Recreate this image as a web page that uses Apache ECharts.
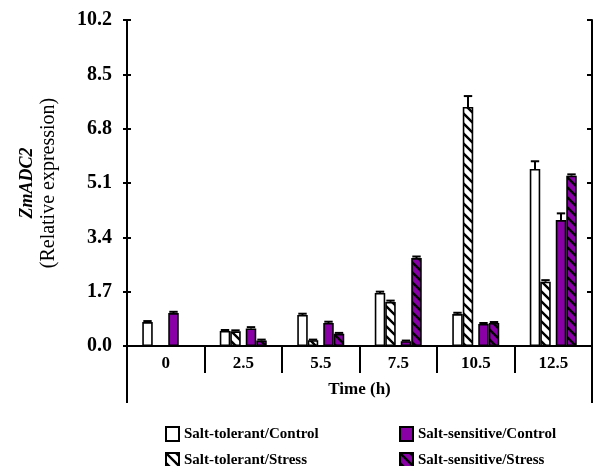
<!DOCTYPE html>
<html>
<head>
<meta charset="utf-8">
<script src="https://cdn.jsdelivr.net/npm/echarts@6/dist/echarts.min.js"></script>
<style>
  html, body { margin: 0; padding: 0; background: #fff; }
  #chart { width: 596px; height: 466px; }
</style>
</head>
<body>
<div id="chart"></div>
<script>
// 数据
const times = ['0', '2.5', '5.5', '7.5', '10.5', '12.5']
const yTicks = [0, 1.7, 3.4, 5.1, 6.8, 8.5, 10.2]

const tolCtrl = [0.75, 0.47, 0.97, 1.66, 1.00, 5.54]
const tolStress = [0, 0.46, 0.18, 1.38, 7.48, 2.01]
const sensCtrl = [1.03, 0.55, 0.72, 0.15, 0.69, 3.94]
const sensStress = [0, 0.17, 0.38, 2.75, 0.72, 5.33]

const tolCtrlErr = [0.03, 0.03, 0.04, 0.04, 0.04, 0.24]
const tolStressErr = [0, 0.03, 0.02, 0.04, 0.34, 0.05]
const sensCtrlErr = [0.04, 0.04, 0.04, 0.02, 0.03, 0.21]
const sensStressErr = [0, 0.03, 0.03, 0.05, 0.03, 0.04]

const PURPLE = '#8800a6'
const FONT = "'Liberation Serif', 'Times New Roman', serif"
const BAR_W = 10.5
const PAIR_GAP = 5
const grid = { left: 127, right: 4, top: 20, bottom: 120 }

// 斜线填充
function hatch(bg) {
  const c = document.createElement('canvas')
  c.width = 10
  c.height = 10
  const ctx = c.getContext('2d')
  ctx.fillStyle = bg
  ctx.fillRect(0, 0, 10, 10)
  ctx.strokeStyle = '#000'
  ctx.lineWidth = 2.4
  ctx.beginPath()
  ctx.moveTo(-2, -2); ctx.lineTo(12, 12)
  ctx.moveTo(-2, 8); ctx.lineTo(2, 12)
  ctx.moveTo(8, -2); ctx.lineTo(12, 2)
  ctx.stroke()
  return { image: c, repeat: 'repeat' }
}

const barDefs = [
  { name: 'Salt-tolerant/Control', data: tolCtrl, err: tolCtrlErr, color: '#fff' },
  { name: 'Salt-tolerant/Stress', data: tolStress, err: tolStressErr, color: hatch('#fff') },
  { name: 'Salt-sensitive/Control', data: sensCtrl, err: sensCtrlErr, color: PURPLE },
  { name: 'Salt-sensitive/Stress', data: sensStress, err: sensStressErr, color: hatch(PURPLE) }
]

// 每根柱子相对类目中心的偏移
const groupW = BAR_W * 4 + PAIR_GAP
const offsets = [0, 1, 2, 3].map(i => -groupW / 2 + BAR_W * i + (i >= 2 ? PAIR_GAP : 0) + BAR_W / 2)

const errData = []
barDefs.forEach((d, k) => {
  d.data.forEach((v, i) => errData.push([i, v, d.err[i], k]))
})

const barSeries = barDefs.map(d => ({
  name: d.name,
  type: 'bar',
  barWidth: BAR_W,
  barGap: '0%',
  data: d.data,
  itemStyle: { color: d.color, borderColor: '#000', borderWidth: 1.6 }
}))
// 中间留空
barSeries.splice(2, 0, {
  name: 'spacer',
  type: 'bar',
  barWidth: PAIR_GAP,
  barGap: '0%',
  silent: true,
  data: times.map(() => '-')
})

const chart = echarts.init(document.getElementById('chart'))

// 图例：每项单独放
const legendPos = [[160, 421], [160, 447], [394, 421], [394, 447]]
const legends = barDefs.map((d, i) => ({
  left: legendPos[i][0],
  top: legendPos[i][1],
  data: [d.name],
  itemWidth: 13,
  itemHeight: 14,
  icon: 'rect',
  itemStyle: { borderColor: '#000', borderWidth: 2 },
  textStyle: { fontFamily: FONT, fontWeight: 'bold', fontSize: 15, color: '#000' }
}))

chart.setOption({
  backgroundColor: '#fff',
  animation: false,
  grid: grid,
  legend: legends,
  xAxis: [{
    type: 'category',
    data: times,
    position: 'bottom',
    axisLine: { lineStyle: { color: '#000', width: 2 } },
    axisTick: { show: true, length: 27, lineStyle: { color: '#000', width: 2 } },
    axisLabel: { margin: 9, color: '#000', fontFamily: FONT, fontWeight: 'bold', fontSize: 17 },
    name: 'Time (h)',
    nameLocation: 'middle',
    nameGap: 35,
    nameTextStyle: { color: '#000', fontFamily: FONT, fontWeight: 'bold', fontSize: 17 }
  }, {
    type: 'category',
    data: times,
    position: 'top',
    axisLine: { lineStyle: { color: '#000', width: 2 } },
    axisTick: { show: false },
    axisLabel: { show: false }
  }],
  yAxis: [{
    type: 'value',
    min: yTicks[0],
    max: yTicks[yTicks.length - 1],
    interval: 1.7,
    position: 'left',
    splitLine: { show: false },
    axisLine: { show: true, lineStyle: { color: '#000', width: 2 } },
    axisTick: { show: true, length: 4, lineStyle: { color: '#000', width: 2 } },
    axisLabel: {
      margin: 15,
      color: '#000',
      fontFamily: FONT,
      fontWeight: 'bold',
      fontSize: 20,
      formatter: v => v.toFixed(1)
    },
    name: '{a|ZmADC2}\n{b|(Relative expression)}',
    nameLocation: 'middle',
    nameRotate: 90,
    nameGap: 68,
    nameTextStyle: {
      rich: {
        a: { fontFamily: FONT, fontWeight: 'bold', fontStyle: 'italic', fontSize: 18, color: '#000', lineHeight: 21 },
        b: { fontFamily: FONT, fontSize: 20, color: '#000', lineHeight: 21 }
      }
    }
  }, {
    type: 'value',
    min: yTicks[0],
    max: yTicks[yTicks.length - 1],
    interval: 1.7,
    position: 'right',
    splitLine: { show: false },
    axisLine: { show: true, lineStyle: { color: '#000', width: 2 } },
    axisTick: { show: true, inside: true, length: 5, lineStyle: { color: '#000', width: 2 } },
    axisLabel: { show: false }
  }, {
    type: 'value',
    min: yTicks[0],
    max: yTicks[yTicks.length - 1],
    interval: 1.7,
    position: 'left',
    splitLine: { show: false },
    axisLine: { show: false },
    axisTick: { show: true, inside: true, length: 4, lineStyle: { color: '#000', width: 2 } },
    axisLabel: { show: false }
  }],
  series: barSeries.concat([{
    type: 'custom',
    name: 'err',
    silent: true,
    z: 5,
    clip: false,
    data: errData,
    renderItem: function (params, api) {
      const err = api.value(2)
      if (!err) return
      const base = api.coord([api.value(0), api.value(1)])
      const top = api.coord([api.value(0), api.value(1) + err])
      const x = base[0] + offsets[api.value(3)]
      const hw = BAR_W * 0.4
      const st = { stroke: '#000', lineWidth: 2 }
      return {
        type: 'group',
        children: [
          { type: 'line', shape: { x1: x, y1: base[1], x2: x, y2: top[1] }, style: st },
          { type: 'line', shape: { x1: x - hw, y1: top[1], x2: x + hw, y2: top[1] }, style: st }
        ]
      }
    }
  }]),
  // 外框向下延伸
  graphic: [
    { type: 'line', shape: { x1: grid.left, y1: 466 - grid.bottom, x2: grid.left, y2: 403 }, style: { stroke: '#000', lineWidth: 2 } },
    { type: 'line', shape: { x1: 596 - grid.right, y1: 466 - grid.bottom, x2: 596 - grid.right, y2: 403 }, style: { stroke: '#000', lineWidth: 2 } }
  ]
})
</script>
</body>
</html>
